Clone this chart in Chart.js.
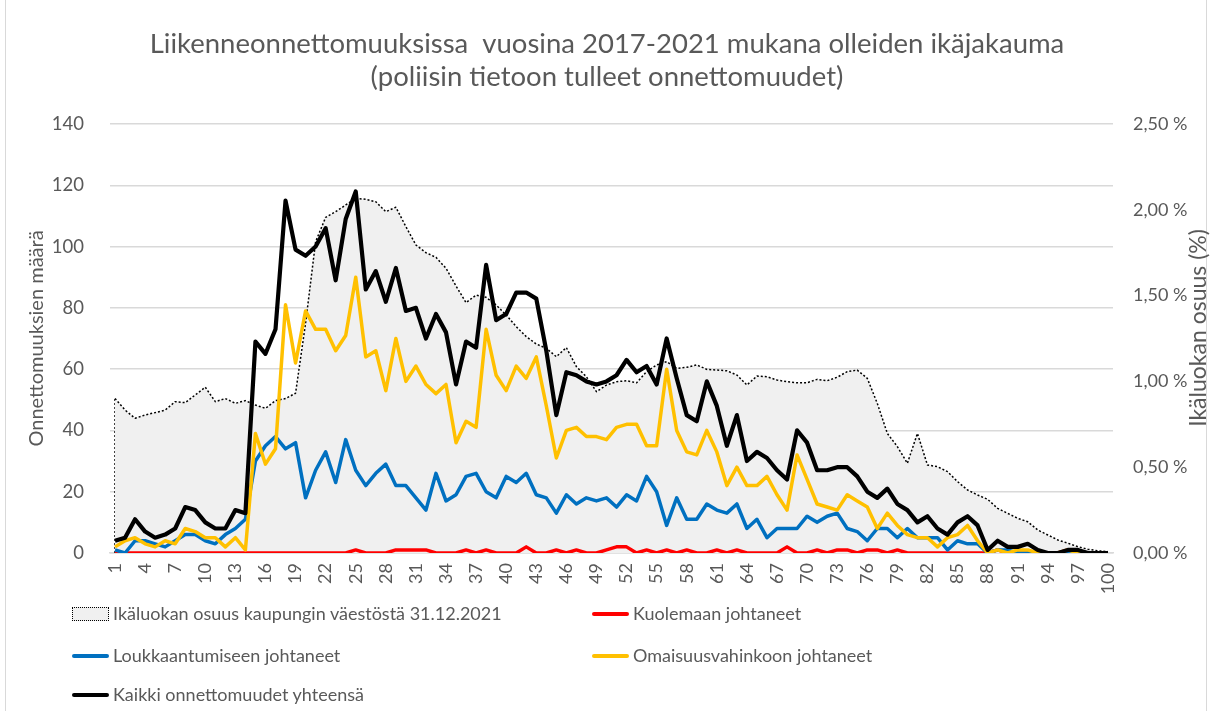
<!DOCTYPE html>
<html>
<head>
<meta charset="utf-8">
<script src="https://cdn.jsdelivr.net/npm/chart.js@4"></script>
<style>
  body { margin: 0; background: #fff; }
  #wrap { position: relative; width: 1214px; height: 711px; overflow: hidden; font-family: Lato, "Open Sans", sans-serif; color: #595959; }
  #frame { position: absolute; left: 5px; top: -2px; width: 1200px; height: 730px; border-left: 1px solid #d9d9d9; border-right: 1px solid #d9d9d9; }
  #chart { position: absolute; left: 0; top: 0; }
  .leg { position: absolute; font-size: 18px; line-height: 24px; white-space: nowrap; }
  .sw { position: absolute; }
</style>
</head>
<body>
<div id="wrap">
  <div id="frame"></div>
  <canvas id="chart" width="1214" height="711"></canvas>
  <div id="legend"></div>
</div>
<script>
// Data (ages 1-100)
const ages = [];
for (let a = 1; a <= 100; a++) ages.push(String(a));

// Ikäluokan osuus väestöstä (%)
const populationShare = [
  0.90, 0.833, 0.785, 0.804, 0.818, 0.833, 0.882, 0.876, 0.921, 0.966,
  0.882, 0.90, 0.872, 0.888, 0.862, 0.843, 0.888, 0.90, 0.931, 1.339,
  1.814, 1.956, 1.989, 2.028, 2.067, 2.061, 2.047, 1.989, 2.015, 1.902,
  1.795, 1.75, 1.723, 1.659, 1.556, 1.459, 1.503, 1.49, 1.445, 1.387,
  1.319, 1.261, 1.218, 1.193, 1.144, 1.197, 1.086, 1.027, 0.94, 0.979,
  0.998, 1.004, 0.992, 1.057, 1.096, 1.115, 1.076, 1.082, 1.096, 1.07,
  1.066, 1.062, 1.037, 0.979, 1.031, 1.027, 1.008, 0.998, 0.992, 0.992,
  1.012, 1.004, 1.024, 1.057, 1.066, 1.018, 0.872, 0.697, 0.62, 0.523,
  0.697, 0.513, 0.503, 0.474, 0.416, 0.367, 0.338, 0.313, 0.26, 0.231,
  0.202, 0.182, 0.134, 0.105, 0.076, 0.057, 0.037, 0.022, 0.013, 0.008
];

const deaths = [
  0, 0, 0, 0, 0, 0, 0, 0, 0, 0,
  0, 0, 0, 0, 0, 0, 0, 0, 0, 0,
  0, 0, 0, 0, 1, 0, 0, 0, 1, 1,
  1, 1, 0, 0, 0, 1, 0, 1, 0, 0,
  0, 2, 0, 0, 1, 0, 1, 0, 0, 1,
  2, 2, 0, 1, 0, 1, 0, 1, 0, 0,
  1, 0, 1, 0, 0, 0, 0, 2, 0, 0,
  1, 0, 1, 1, 0, 1, 1, 0, 1, 0,
  0, 0, 0, 0, 0, 0, 0, 0, 1, 0,
  0, 0, 0, 0, 0, 1, 0, 0, 0, 0
];

const injuries = [
  1, 0, 4, 4, 3, 2, 4, 6, 6, 4,
  3, 6, 8, 11, 30, 35, 38, 34, 36, 18,
  27, 33, 23, 37, 27, 22, 26, 29, 22, 22,
  18, 14, 26, 17, 19, 25, 26, 20, 18, 25,
  23, 26, 19, 18, 13, 19, 16, 18, 17, 18,
  15, 19, 17, 25, 20, 9, 18, 11, 11, 16,
  14, 13, 16, 8, 11, 5, 8, 8, 8, 12,
  10, 12, 13, 8, 7, 4, 8, 8, 5, 8,
  5, 5, 5, 1, 4, 3, 3, 0, 1, 1,
  0, 0, 0, 0, 0, 0, 0, 0, 0, 0
];

const propertyDamage = [
  2, 4, 5, 3, 2, 4, 3, 8, 7, 5,
  5, 2, 5, 1, 39, 29, 34, 81, 62, 79,
  73, 73, 66, 71, 90, 64, 66, 53, 70, 56,
  61, 55, 52, 55, 36, 43, 41, 73, 58, 53,
  61, 57, 64, 48, 31, 40, 41, 38, 38, 37,
  41, 42, 42, 35, 35, 60, 40, 33, 32, 40,
  33, 22, 28, 22, 22, 25, 19, 14, 32, 24,
  16, 15, 14, 19, 17, 15, 8, 13, 9, 6,
  5, 5, 2, 5, 6, 9, 4, 0, 1, 0,
  1, 1, 0, 0, 0, 1, 0, 0, 0, 0
];

const allAccidents = [
  4, 5, 11, 7, 5, 6, 8, 15, 14, 10,
  8, 8, 14, 13, 69, 65, 73, 115, 99, 97,
  100, 106, 89, 109, 118, 86, 92, 82, 93, 79,
  80, 70, 78, 72, 55, 69, 67, 94, 76, 78,
  85, 85, 83, 66, 45, 59, 58, 56, 55, 56,
  58, 63, 59, 61, 55, 70, 57, 45, 43, 56,
  48, 35, 45, 30, 33, 31, 27, 24, 40, 36,
  27, 27, 28, 28, 25, 20, 18, 21, 16, 14,
  10, 12, 8, 6, 10, 12, 9, 1, 4, 2,
  2, 3, 1, 0, 0, 1, 1, 0, 0, 0
];

const leftTicks = [0, 20, 40, 60, 80, 100, 120, 140];
const rightTicks = [0, 0.5, 1, 1.5, 2, 2.5];

const seriesNames = [
  'Ikäluokan osuus kaupungin väestöstä 31.12.2021',
  'Kuolemaan johtaneet',
  'Loukkaantumiseen johtaneet',
  'Omaisuusvahinkoon johtaneet',
  'Kaikki onnettomuudet yhteensä'
];

const txt = '#595959';
const fontFam = 'Lato, "Open Sans", sans-serif';

// dotted left edge of the area + right axis title (reads bottom-to-top)
const extras = {
  id: 'extras',
  beforeDatasetsDraw(chart) {
    const ctx = chart.ctx;
    const x = chart.scales.x.getPixelForValue(0);
    const y1 = chart.scales.y1;
    ctx.save();
    ctx.strokeStyle = '#000';
    ctx.lineWidth = 1.5;
    ctx.setLineDash([2, 2]);
    ctx.beginPath();
    ctx.moveTo(x, y1.getPixelForValue(0));
    ctx.lineTo(x, y1.getPixelForValue(populationShare[0]));
    ctx.stroke();
    ctx.restore();
  },
  afterDraw(chart) {
    const ctx = chart.ctx;
    const a = chart.chartArea;
    ctx.save();
    ctx.translate(1199, 328);
    ctx.rotate(-Math.PI / 2);
    ctx.font = '23px ' + fontFam;
    ctx.fillStyle = txt;
    ctx.textAlign = 'center';
    ctx.textBaseline = 'middle';
    ctx.fillText('Ikäluokan osuus (%)', 0, 0);
    ctx.restore();
  }
};

new Chart(document.getElementById('chart'), {
  type: 'line',
  data: {
    labels: ages,
    datasets: [
      { label: seriesNames[0], data: populationShare, yAxisID: 'y1', fill: 'origin',
        backgroundColor: '#f0f0f0', borderColor: '#000', borderWidth: 1.5, borderDash: [2, 2], order: 5 },
      { label: seriesNames[1], data: deaths, yAxisID: 'y', borderColor: '#ff0000', borderWidth: 3.5, order: 4 },
      { label: seriesNames[2], data: injuries, yAxisID: 'y', borderColor: '#0070c0', borderWidth: 3.5, order: 3 },
      { label: seriesNames[3], data: propertyDamage, yAxisID: 'y', borderColor: '#ffc000', borderWidth: 3.5, order: 2 },
      { label: seriesNames[4], data: allAccidents, yAxisID: 'y', borderColor: '#000000', borderWidth: 4.2, order: 1 }
    ]
  },
  options: {
    responsive: false,
    animation: false,
    elements: { point: { radius: 0 }, line: { tension: 0, borderJoinStyle: 'round' } },
    layout: { padding: { left: 0, right: 0, top: 0, bottom: 118 } },
    plugins: {
      legend: { display: false },
      tooltip: { enabled: false },
      title: {
        display: true,
        text: ['Liikenneonnettomuuksissa  vuosina 2017-2021 mukana olleiden ikäjakauma', '(poliisin tietoon tulleet onnettomuudet)'],
        color: txt,
        font: { family: fontFam, size: 27.5, weight: 'normal', lineHeight: 1.2 },
        padding: { top: 28, bottom: 30 }
      }
    },
    scales: {
      x: {
        offset: true,
        grid: { display: false, drawTicks: false },
        border: { color: '#d9d9d9', width: 1.5 },
        ticks: {
          autoSkip: false, maxRotation: 90, minRotation: 90, padding: 10,
          color: txt, font: { family: fontFam, size: 18 },
          callback: (v, i) => (i % 3 === 0 ? ages[i] : '')
        },
        afterFit: s => { s.height = 40; }
      },
      y: {
        position: 'left', min: 0, max: 140,
        afterBuildTicks: s => { s.ticks = leftTicks.map(v => ({ value: v })); },
        grid: { color: '#d9d9d9', lineWidth: 1.5, drawTicks: false },
        border: { display: false },
        ticks: { color: txt, padding: 26, font: { family: fontFam, size: 18.5 } },
        title: { display: true, text: 'Onnettomuuksien määrä', color: txt,
          font: { family: fontFam, size: 20 }, padding: { top: 25, bottom: 0 } },
        afterFit: s => { s.width = 110; }
      },
      y1: {
        position: 'right', min: 0, max: 2.5,
        afterBuildTicks: s => { s.ticks = rightTicks.map(v => ({ value: v })); },
        grid: { display: false, drawTicks: false },
        border: { display: false },
        ticks: { color: txt, padding: 20, font: { family: fontFam, size: 18 },
          callback: v => v.toFixed(2).replace('.', ',') + '\u00a0%' },
        afterFit: s => { s.width = 101; }
      }
    }
  },
  plugins: [extras]
});

// legend in two columns, like the original
const legendItems = [
  { name: seriesNames[0], kind: 'area', x: 72, y: 614 },
  { name: seriesNames[1], color: '#ff0000', x: 592, y: 614 },
  { name: seriesNames[2], color: '#0070c0', x: 72, y: 656 },
  { name: seriesNames[3], color: '#ffc000', x: 592, y: 656 },
  { name: seriesNames[4], color: '#000000', x: 72, y: 695 }
];
const leg = document.getElementById('legend');
legendItems.forEach(it => {
  const sw = document.createElement('div');
  sw.className = 'sw';
  if (it.kind === 'area') {
    Object.assign(sw.style, { left: it.x + 'px', top: (it.y - 7) + 'px', width: '35px', height: '12px',
      background: '#f0f0f0', border: '1px dotted #000' });
  } else {
    Object.assign(sw.style, { left: it.x + 'px', top: (it.y - 2) + 'px', width: '37px', height: '4px',
      background: it.color, borderRadius: '2px' });
  }
  leg.appendChild(sw);
  const t = document.createElement('div');
  t.className = 'leg';
  t.textContent = it.name;
  t.style.left = (it.x + 41) + 'px';
  t.style.top = (it.y - 13) + 'px';
  leg.appendChild(t);
});
</script>
</body>
</html>
